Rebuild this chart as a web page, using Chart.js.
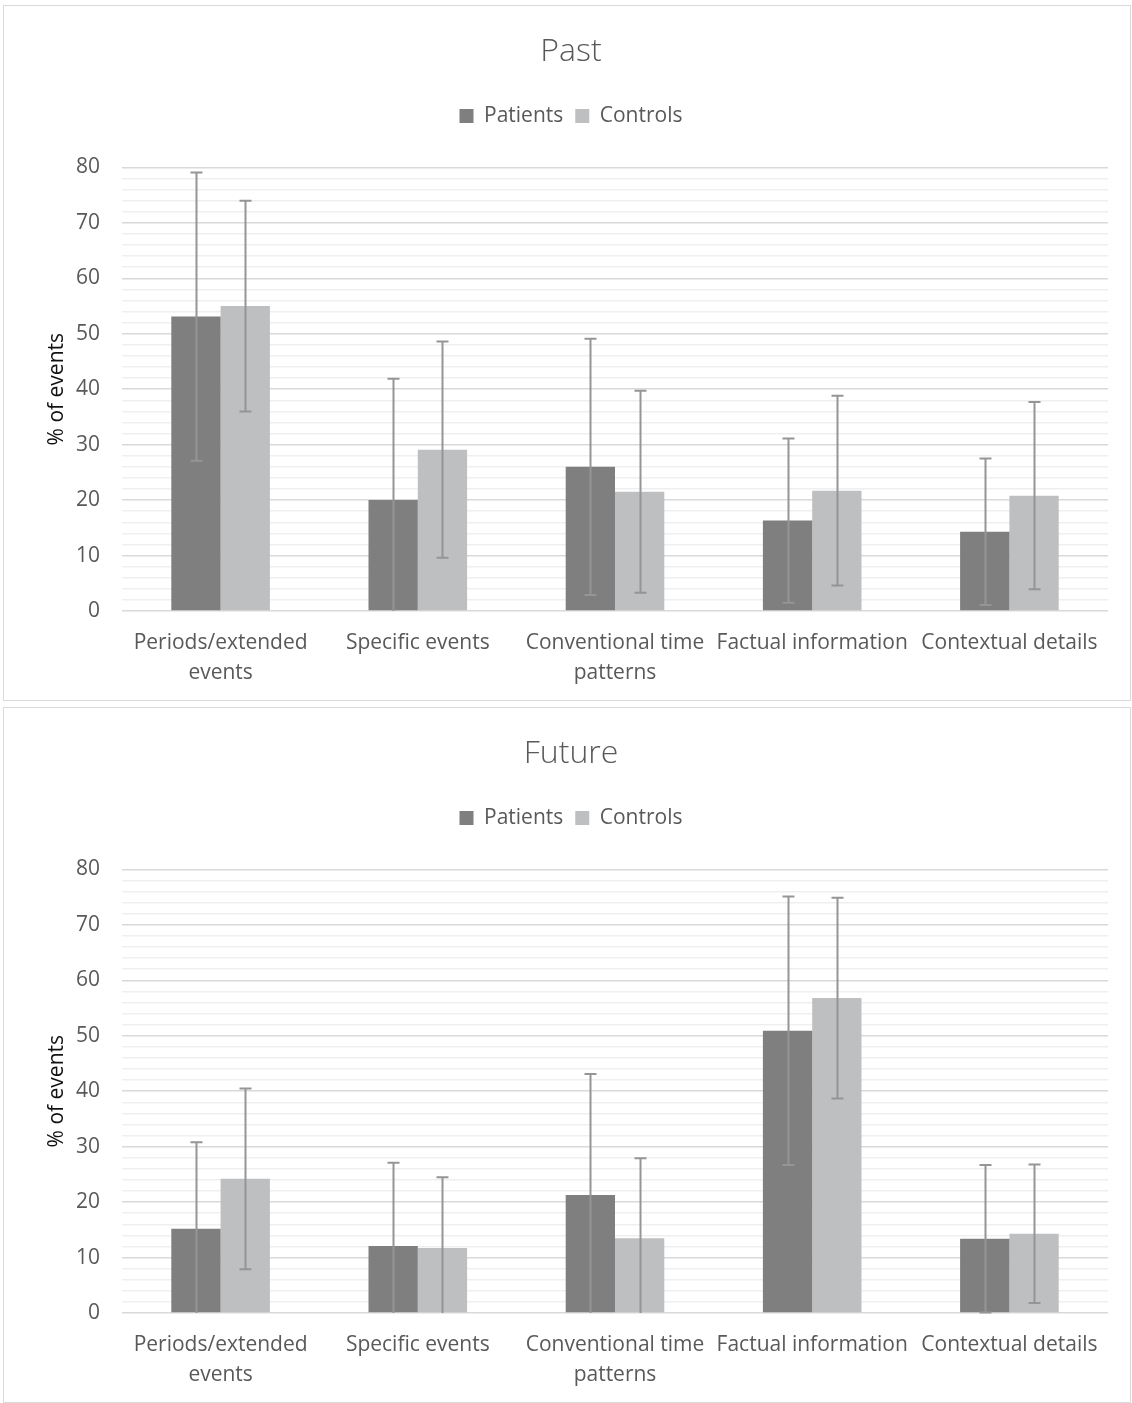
<!DOCTYPE html>
<html>
<head>
<meta charset="utf-8">
<script src="https://cdn.jsdelivr.net/npm/chart.js@4.4.1/dist/chart.umd.min.js"></script>
<style>
  html, body { margin: 0; padding: 0; background: #fff; }
  .box { position: absolute; left: 3px; width: 1126px; height: 694px; border: 1px solid #d9d9d9; background: #fff; }
  #box1 { top: 5px; }
  #box2 { top: 707px; }
  canvas { display: block; }
</style>
</head>
<body>
<div class="box" id="box1"><canvas id="past"></canvas></div>
<div class="box" id="box2"><canvas id="future"></canvas></div>
<script>
// ---- Data ----
const categories = [
  ['Periods/extended', 'events'],
  ['Specific events'],
  ['Conventional time', 'patterns'],
  ['Factual information'],
  ['Contextual details']
];
const seriesNames = ['Patients', 'Controls'];
const yTicks = [0, 10, 20, 30, 40, 50, 60, 70, 80];

const pastPatients   = [53.1, 20.0, 26.0, 16.3, 14.3];
const pastPatientsSD = [26.0, 21.9, 23.1, 14.8, 13.2];
const pastControls   = [55.0, 29.1, 21.5, 21.7, 20.8];
const pastControlsSD = [19.0, 19.5, 18.2, 17.1, 16.9];

const futurePatients   = [15.2, 12.1, 21.3, 50.9, 13.4];
const futurePatientsSD = [15.6, 15.0, 21.8, 24.2, 13.3];
const futureControls   = [24.2, 11.7, 13.5, 56.8, 14.3];
const futureControlsSD = [16.3, 12.8, 14.4, 18.1, 12.5];

// ---- Styles ----
const FONT = "'Open Sans', 'Noto Sans', sans-serif";
const TEXT = '#595959';
const COL_PAT = '#7f7f80';
const COL_CON = '#bebfc1';
const ERR = '#959595';

const errorBarPlugin = {
  id: 'errorBars',
  afterDatasetsDraw(chart) {
    const ctx = chart.ctx;
    const y = chart.scales.y;
    const area = chart.chartArea;
    ctx.save();
    ctx.strokeStyle = ERR;
    ctx.lineWidth = 2;
    chart.data.datasets.forEach((ds, di) => {
      const meta = chart.getDatasetMeta(di);
      meta.data.forEach((bar, i) => {
        const m = ds.data[i], sd = ds.sd[i];
        const hi = m + sd, lo = m - sd;
        const yHi = y.getPixelForValue(hi);
        const yLo = Math.min(y.getPixelForValue(Math.max(lo, 0)), area.bottom);
        const x = Math.round(bar.x) + 0.5;
        ctx.beginPath();
        ctx.moveTo(x, yHi); ctx.lineTo(x, yLo);
        ctx.moveTo(x - 6, yHi); ctx.lineTo(x + 6, yHi);
        if (lo >= 0) { ctx.moveTo(x - 6, yLo); ctx.lineTo(x + 6, yLo); }
        ctx.stroke();
      });
    });
    ctx.restore();
  }
};

// extra space between legend and plot area
const legendGapPlugin = {
  id: 'legendGap',
  beforeLayout(chart) {
    const lg = chart.legend;
    if (lg && !lg._gapPatched) {
      const fit = lg.fit;
      lg.fit = function () { fit.call(this); this.height += 31; };
      lg._gapPatched = true;
    }
  }
};

function makeChart(id, title, pat, patSD, con, conSD) {
  return new Chart(document.getElementById(id), {
    type: 'bar',
    data: {
      labels: categories,
      datasets: [
        { label: seriesNames[0], data: pat, sd: patSD, backgroundColor: COL_PAT, borderWidth: 0 },
        { label: seriesNames[1], data: con, sd: conSD, backgroundColor: COL_CON, borderWidth: 0 }
      ]
    },
    plugins: [errorBarPlugin, legendGapPlugin],
    options: {
      responsive: true,
      maintainAspectRatio: false,
      animation: false,
      devicePixelRatio: 1,
      datasets: { bar: { categoryPercentage: 0.5, barPercentage: 1.0 } },
      layout: { padding: { left: 8, right: 0, top: 0, bottom: 0 } },
      plugins: {
        tooltip: { enabled: false },
        title: {
          display: true, text: title, color: TEXT,
          font: { family: FONT, size: 32, weight: 300 },
          padding: { top: 27, bottom: 22 }
        },
        legend: {
          display: true, position: 'top',
          labels: {
            color: TEXT, boxWidth: 14, boxHeight: 14,
            font: { family: FONT, size: 21 }, padding: 12
          }
        }
      },
      scales: {
        x: {
          grid: { display: false },
          border: { display: false },
          ticks: { color: TEXT, font: { family: FONT, size: 21, lineHeight: 1.43 }, maxRotation: 0, autoSkip: false, padding: 9 },
          afterFit(scale) { scale.height = 89; }
        },
        y: {
          min: 0, max: 80,
          border: { display: false },
          grid: {
            color: ctx => (ctx.tick && ctx.tick.value % 10 === 0) ? '#d9d9d9' : '#efefef',
            lineWidth: 1.5,
            drawTicks: false
          },
          ticks: {
            stepSize: 2, autoSkip: false, color: TEXT, padding: 22,
            font: { family: FONT, size: 21 },
            callback: v => yTicks.includes(v) ? String(v) : ''
          },
          title: {
            display: true, text: '% of events', color: '#111111',
            font: { family: FONT, size: 21 }, padding: { top: 32, bottom: 0 }
          },
          afterFit(scale) { scale.width = 110; }
        },
        yPad: {
          position: 'right',
          display: true,
          min: 0, max: 80,
          grid: { display: false, drawTicks: false },
          border: { display: false },
          ticks: { display: false },
          afterFit(scale) { scale.width = 22; }
        }
      }
    }
  });
}

makeChart('past', 'Past', pastPatients, pastPatientsSD, pastControls, pastControlsSD);
makeChart('future', 'Future', futurePatients, futurePatientsSD, futureControls, futureControlsSD);
</script>
</body>
</html>
